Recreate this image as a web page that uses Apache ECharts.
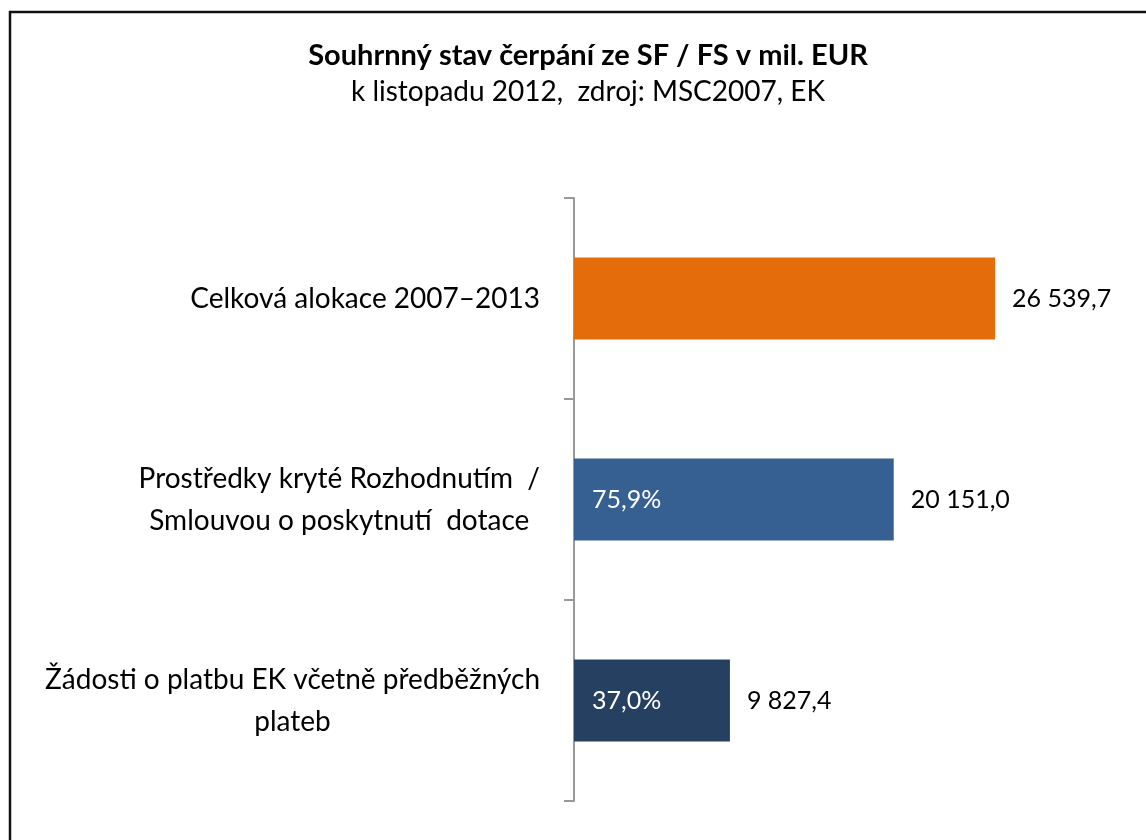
<!DOCTYPE html>
<html>
<head>
<meta charset="utf-8">
<script src="https://cdn.jsdelivr.net/npm/echarts@6/dist/echarts.min.js"></script>
<style>
  html, body { margin: 0; padding: 0; background: #fff; }
  #chart { width: 1146px; height: 840px; }
</style>
</head>
<body>
<div id="chart"></div>
<script>
// data
const categories = [
    'Celková alokace 2007–2013',
    'Prostředky kryté Rozhodnutím  /\nSmlouvou o poskytnutí  dotace',
    'Žádosti o platbu EK včetně předběžných\nplateb'
];
const values = [26539.7, 20151.0, 9827.4];
const shares = ['', '75,9%', '37,0%'];
const barColors = ['#E46C0A', '#376092', '#254061'];

const FONT = 'Lato, "Open Sans", sans-serif';

function czNumber(v) {
    const parts = v.toFixed(1).split('.');
    const int = parts[0].replace(/\B(?=(\d{3})+(?!\d))/g, ' ');
    return int + ',' + parts[1];
}

function drawChart() {
    const chart = echarts.init(document.getElementById('chart'));

    const option = {
        backgroundColor: '#fff',
        title: {
            text: 'Souhrnný stav čerpání ze SF / FS v mil. EUR',
            subtext: 'k listopadu 2012,  zdroj: MSC2007, EK',
            left: 583,
            textAlign: 'center',
            top: 36,
            itemGap: 8,
            textStyle: {
                fontFamily: FONT,
                fontSize: 29,
                fontWeight: 'bold',
                color: '#000'
            },
            subtextStyle: {
                fontFamily: FONT,
                fontSize: 28,
                color: '#000'
            }
        },
        graphic: [{
            type: 'rect',
            shape: { x: 10, y: 12, width: 1300, height: 1000 },
            style: { fill: null, stroke: '#111', lineWidth: 2.5 },
            silent: true
        }],
        grid: {
            left: 574,
            top: 198,
            width: 476,
            bottom: 39
        },
        xAxis: {
            type: 'value',
            min: 0,
            max: 30000,
            show: false
        },
        yAxis: {
            type: 'category',
            data: categories,
            inverse: true,
            axisLine: { show: true, lineStyle: { color: '#999', width: 2 } },
            axisTick: {
                show: true,
                alignWithLabel: false,
                length: 10,
                lineStyle: { color: '#999', width: 2 }
            },
            axisLabel: {
                margin: 34,
                color: '#000',
                fontFamily: FONT,
                fontSize: 28,
                lineHeight: 42,
                formatter: v => v.split('\n').map(l => '{c|' + l + '}').join('\n'),
                rich: {
                    c: {
                        align: 'center',
                        fontFamily: FONT,
                        fontSize: 28,
                        lineHeight: 42,
                        color: '#000'
                    }
                }
            }
        },
        series: [
            {
                type: 'bar',
                barWidth: 82,
                data: values.map((v, i) => ({ value: v, itemStyle: { color: barColors[i] } })),
                label: {
                    show: true,
                    position: 'right',
                    distance: 17,
                    color: '#000',
                    fontFamily: FONT,
                    fontSize: 25,
                    formatter: p => czNumber(p.value)
                }
            },
            {
                type: 'bar',
                barWidth: 82,
                barGap: '-100%',
                data: values,
                itemStyle: { color: 'rgba(0,0,0,0)' },
                label: {
                    show: true,
                    position: 'insideLeft',
                    distance: 18,
                    color: '#fff',
                    fontFamily: FONT,
                    fontSize: 25,
                    formatter: p => shares[p.dataIndex]
                }
            }
        ]
    };

    chart.setOption(option);
}

drawChart();
</script>
</body>
</html>
